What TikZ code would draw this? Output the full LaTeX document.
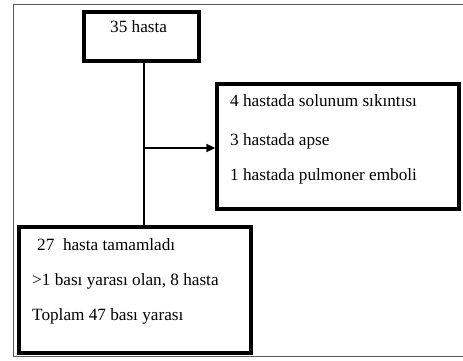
\documentclass[tikz,border=0pt]{standalone}
\usepackage{fontspec}
\setmainfont{Liberation Serif}
\usetikzlibrary{arrows.meta}
\begin{document}
\begin{tikzpicture}[x=1pt,y=-1pt,
  boxstyle/.style={draw=black,line width=3.4pt},
  txt/.style={anchor=base west,inner sep=0pt,font=\fontsize{17.2}{19}\selectfont},
  conn/.style={line width=2pt}]
\useasboundingbox (0,0) rectangle (463,361);
\draw[gray!70!black,line width=1pt] (463,5) -- (13,5) -- (13,356.5) -- (463,356.5);
\node[boxstyle,minimum width=115pt,minimum height=49pt,inner sep=0pt] (top) at (141.5,36.5) {};
\node[txt] (t1) at (110,33) {35 hasta};
\node[boxstyle,minimum width=242pt,minimum height=125pt,inner sep=0pt] (right) at (338,146.5) {};
\node[txt] (r1) at (230,106) {4 hastada solunum sıkıntısı};
\node[txt] (r2) at (230,145) {3 hastada apse};
\node[txt] (r3) at (230,180) {1 hastada pulmoner emboli};
\node[boxstyle,minimum width=232pt,minimum height=126pt,inner sep=0pt] (bot) at (135,290) {};
\node[txt] (b1) at (37,250) {27\ \ hasta tamamladı};
\node[txt] (b2) at (32,285) {>1 bası yarası olan, 8 hasta};
\node[txt] (b3) at (32,320) {Toplam 47 bası yarası};
\coordinate (br) at (144,148);
\draw[conn] (144,0 |- top.south) -- (144,0 |- bot.north);
\draw[conn,-{Triangle[length=9pt,width=8pt]}] (br) -- (br -| right.west);
\end{tikzpicture}
\end{document}
